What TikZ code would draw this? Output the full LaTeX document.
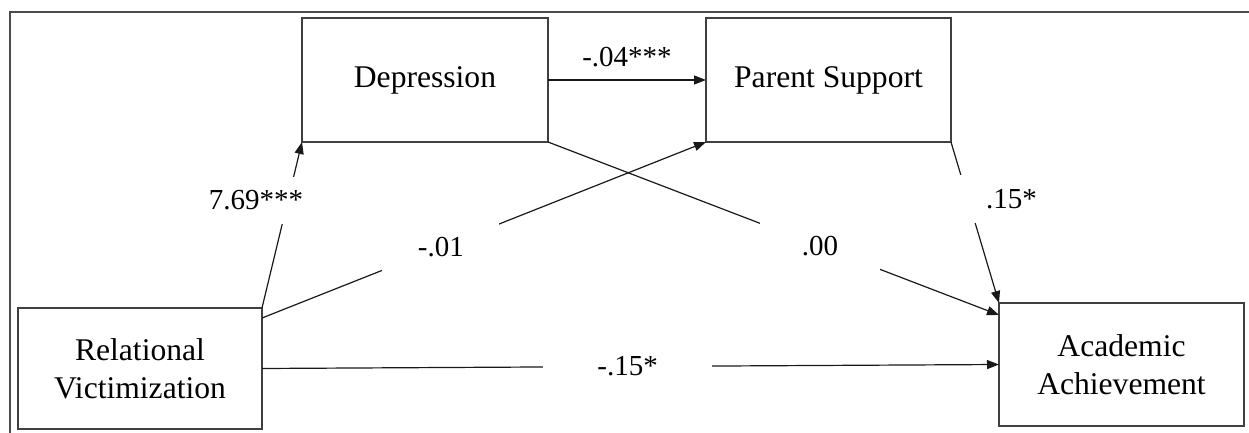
\documentclass[tikz,border=0pt]{standalone}
\usepackage{fontspec}
\setmainfont{Liberation Serif}
\usetikzlibrary{arrows.meta}

\begin{document}
\begin{tikzpicture}[x=0.5pt, y=-0.5pt, line width=0.6pt,
    varbox/.style={draw=black!75, inner sep=0pt, outer sep=0pt, align=center, font=\fontsize{15.8}{19}\selectfont},
    path/.style={draw=black!90, -{Triangle[length=6pt,width=4.5pt]}},
    coef/.style={fill=white, inner sep=1pt, font=\fontsize{14.5}{17}\selectfont}]
    \useasboundingbox (0,0) rectangle (1249,433);
    \draw[black!70, line width=0.9pt] (1249,12) -- (10,12) -- (10,433);
    \node[varbox, minimum width=122pt, minimum height=60.5pt] (rv) at (140,368.5) {Relational\\Victimization};
    \node[varbox, minimum width=123pt, minimum height=62pt] (dep) at (425,80) {Depression};
    \node[varbox, minimum width=122.5pt, minimum height=62pt] (ps) at (828.5,80) {Parent Support};
    \node[varbox, minimum width=122.5pt, minimum height=61.5pt] (aa) at (1121.5,364.5) {Academic\\Achievement};
    \draw[path] (dep.east) -- node[coef, above=5pt] {-.04***} (ps.west);
    \draw[path] (rv.north east) -- node[coef, pos=0.65, xshift=-16pt, minimum width=48pt, minimum height=23.5pt] {7.69***} (dep.south west);
    \draw[path] ([yshift=-5pt]rv.north east) -- node[coef, pos=0.403, minimum width=58.5pt, minimum height=25pt] {-.01} (ps.south west);
    \draw[path] (dep.south east) -- node[coef, pos=0.603, minimum width=60pt, minimum height=25pt] {.00} ([yshift=-6pt]aa.north west);
    \draw[path] (ps.south east) -- node[coef, pos=0.354, xshift=14.5pt, text width=40pt, align=right, minimum height=24pt] {.15*} (aa.north west);
    \draw[path] (rv.east) -- node[coef, pos=0.496, minimum width=84.5pt, minimum height=20pt] {-.15*} (aa.west);
\end{tikzpicture}
\end{document}
